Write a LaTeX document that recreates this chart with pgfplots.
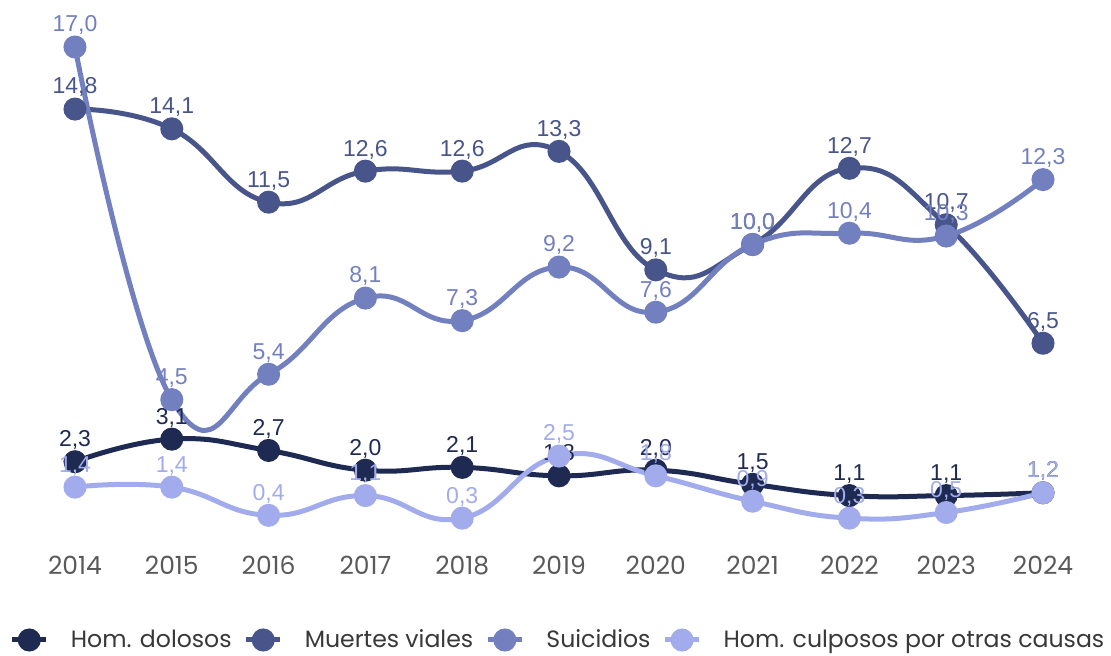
\documentclass[border=0pt]{standalone}
\usepackage{pgfplots}
\usepackage{pgfplotstable}
\pgfplotsset{compat=1.18}
\usepackage{fontspec}
\setmainfont{Poppins}
\newfontfamily\labelfont{Liberation Sans}

\definecolor{cDol}{HTML}{1E2A52}
\definecolor{cVia}{HTML}{48558A}
\definecolor{cSui}{HTML}{7380BF}
\definecolor{cCul}{HTML}{A2ACEC}

\pgfplotstableread{
year dol via sui cul
2014 2.3 14.8 17.0 1.4
2015 3.1 14.1 4.5 1.4
2016 2.7 11.5 5.4 0.4
2017 2.0 12.6 8.1 1.1
2018 2.1 12.6 7.3 0.3
2019 1.8 13.3 9.2 2.5
2020 2.0 9.1 7.6 1.8
2021 1.5 10.0 10.0 0.9
2022 1.1 12.7 10.4 0.3
2023 1.1 10.7 10.3 0.5
2024 1.2 6.5 12.3 1.2
}\datatable

\pgfplotsset{
  serie/.style={
    smooth, tension=0.8, line width=2.5pt, color=#1,
    mark=*, mark size=4.5pt, mark options={solid},
    nodes near coords={\pgfmathprintnumber[fixed,fixed zerofill,precision=1,use comma,assume math mode=true]{\pgfplotspointmeta}},
    every node near coord/.append style={font=\labelfont\fontsize{11.5}{12}\selectfont, color=#1, anchor=south, yshift=1.5pt},
  },
}

\begin{document}
\begin{tikzpicture}
\begin{axis}[
  scale only axis,
  width=484pt, height=239.8pt,
  xmin=2014, xmax=2024, ymin=0, ymax=17,
  clip=false,
  axis line style={draw=none},
  ytick=\empty,
  xtick={2014,2015,2016,2017,2018,2019,2020,2021,2022,2023,2024},
  xticklabels={2014,2015,2016,2017,2018,2019,2020,2021,2022,2023,2024},
  major tick length=0pt,
  xticklabel style={font=\fontsize{12.5}{13}\selectfont, text=black!65, yshift=-11pt},
  legend columns=4,
  legend style={at={(0.5,-0.2364)}, anchor=center, draw=none, fill=none,
    font=\fontsize{11.8}{13}\selectfont, text=black!78,
    /tikz/every odd column/.append style={column sep=9pt},
    /tikz/every even column/.append style={column sep=4pt}},
]
\addplot[serie=cDol] table[x=year,y=dol]{\datatable};
\addlegendentry{Hom. dolosos}
\addplot[serie=cVia] table[x=year,y=via]{\datatable};
\addlegendentry{Muertes viales}
\addplot[serie=cSui] table[x=year,y=sui]{\datatable};
\addlegendentry{Suicidios}
\addplot[serie=cCul] table[x=year,y=cul]{\datatable};
\addlegendentry{Hom. culposos por otras causas}
\end{axis}
\pgfresetboundingbox
\useasboundingbox ([xshift=-37.5pt,yshift=-64.2pt]current axis.south west) rectangle ([xshift=34pt,yshift=23.5pt]current axis.north east);
\end{tikzpicture}
\end{document}
